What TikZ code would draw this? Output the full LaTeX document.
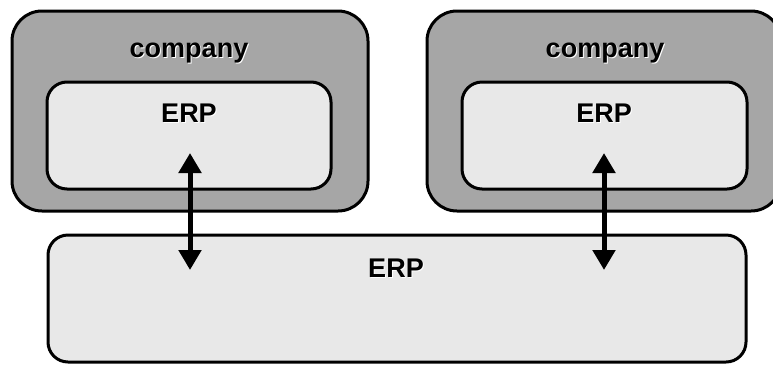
\documentclass[tikz,border=0pt]{standalone}
\usepackage{fontspec}
\setmainfont{Liberation Sans}
\usetikzlibrary{arrows.meta}
\definecolor{outergray}{HTML}{A6A6A6}
\definecolor{innergray}{HTML}{E8E8E8}
\tikzset{
  companybox/.style={draw=black, line width=3pt, fill=outergray, rounded corners=30pt,
    inner sep=0pt, minimum width=#1},
  erpbox/.style={draw=black, line width=3pt, fill=innergray, rounded corners=20pt,
    inner sep=0pt},
  lbl/.style={font=\bfseries\fontsize{27}{30}\selectfont, anchor=base, inner sep=0pt},
  lblshadow/.style={lbl, text=white},
  link/.style={line width=5pt, {Triangle[width=22pt,length=20pt]}-{Triangle[width=22pt,length=20pt]}}
}
\newcommand{\shadowlabel}[3]{%
  \node[lblshadow] at ($(#1)+(1,1)$) {#3};
  \node[lbl] (#2) at (#1) {#3};}
\usetikzlibrary{calc}
\begin{document}
\begin{tikzpicture}[x=1pt, y=-1pt]
  \useasboundingbox (0,0) rectangle (773,365);
  \clip (0,0) rectangle (773,365);

  % two company frames
  \node[companybox=356pt, minimum height=200pt] (compL) at (190,111) {};
  \node[companybox=354pt, minimum height=200pt] (compR) at (604,111) {};

  % ERP systems inside each company
  \node[erpbox, minimum width=284pt, minimum height=107pt] (erpL) at (189,135.5) {};
  \node[erpbox, minimum width=285pt, minimum height=107pt] (erpR) at (604.5,135.5) {};

  % shared ERP
  \node[erpbox, minimum width=698pt, minimum height=127pt] (erpB) at (397,298.5) {};

  % labels with a light drop shadow
  \shadowlabel{189,57}{tCompL}{company}
  \shadowlabel{605,57}{tCompR}{company}
  \shadowlabel{189,122}{tErpL}{ERP}
  \shadowlabel{604,122}{tErpR}{ERP}
  \shadowlabel{396,277}{tErpB}{ERP}

  % exchange between local and shared ERP
  \coordinate (aL1) at (190,153);
  \coordinate (aL2) at (190,270);
  \coordinate (aR1) at (604,153);
  \coordinate (aR2) at (604,270);
  \draw[link] (aL1) -- (aL2);
  \draw[link] (aR1) -- (aR2);
\end{tikzpicture}
\end{document}
